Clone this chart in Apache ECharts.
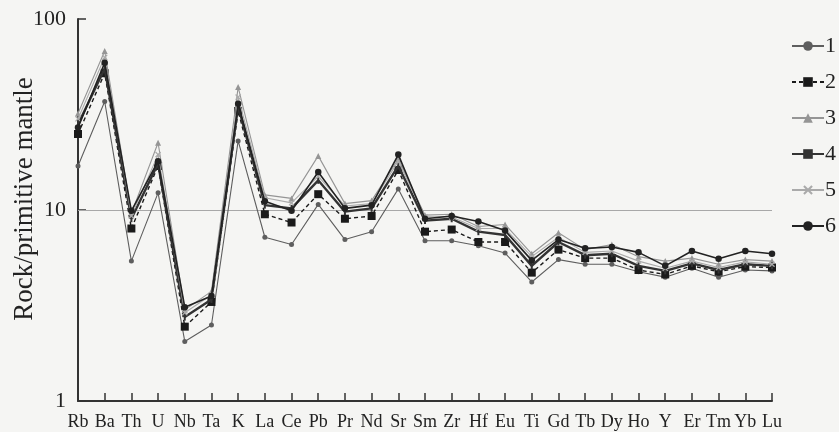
<!DOCTYPE html>
<html>
<head>
<meta charset="utf-8">
<script src="https://cdn.jsdelivr.net/npm/echarts@6/dist/echarts.min.js"></script>
<style>
  html, body { margin: 0; padding: 0; background: #f5f5f3; }
  #chart { width: 839px; height: 432px; }
</style>
</head>
<body>
<div id="chart"></div>
<script>
// Primitive-mantle normalised trace element patterns (spider diagram)
const elements = ['Rb','Ba','Th','U','Nb','Ta','K','La','Ce','Pb','Pr','Nd','Sr','Sm','Zr','Hf','Eu','Ti','Gd','Tb','Dy','Ho','Y','Er','Tm','Yb','Lu'];

const sample1 = [17, 37, 5.4, 12.3, 2.05, 2.5, 23, 7.2, 6.6, 10.7, 7.0, 7.7, 12.9, 6.9, 6.9, 6.5, 5.95, 4.2, 5.5, 5.2, 5.2, 4.75, 4.45, 4.95, 4.45, 4.85, 4.8];
const sample2 = [25, 52, 8.0, 17, 2.45, 3.3, 33, 9.5, 8.6, 12.1, 9.0, 9.3, 16.2, 7.7, 7.9, 6.8, 6.8, 4.7, 6.2, 5.6, 5.6, 4.85, 4.6, 5.1, 4.75, 5.05, 5.0];
const sample3 = [32, 68, 9.6, 22.5, 3.0, 3.75, 44, 12, 11.5, 19.2, 10.8, 11.2, 18.5, 9.4, 9.5, 8.2, 8.4, 5.9, 7.6, 6.2, 6.6, 5.7, 5.4, 5.6, 5.2, 5.5, 5.4];
const sample4 = [28, 55, 9.0, 17.5, 2.75, 3.4, 35, 10.6, 10.2, 14.3, 9.8, 10.2, 17, 8.8, 9.0, 7.7, 7.4, 5.1, 6.8, 5.8, 5.9, 5.1, 4.8, 5.25, 4.85, 5.2, 5.1];
const sample5 = [30, 63, 9.3, 19.5, 2.9, 3.6, 39, 11.6, 10.9, 15, 10.5, 10.8, 18, 9.2, 9.2, 8.0, 8.0, 5.7, 7.2, 6.0, 6.1, 5.4, 4.95, 5.4, 5.0, 5.35, 5.2];
const sample6 = [27, 59, 9.9, 18, 3.1, 3.55, 36, 11.1, 9.9, 15.8, 10.2, 10.6, 19.5, 9.0, 9.3, 8.7, 7.8, 5.45, 7.0, 6.3, 6.4, 6.0, 5.1, 6.1, 5.55, 6.1, 5.9];

const yTicks = [1, 10, 100];
const seriesNames = ['1', '2', '3', '4', '5', '6'];

const serif = 'Liberation Serif, Times New Roman, serif';
const crossPath = 'path://M0,1.5 L1.5,0 L10,8.5 L8.5,10 Z M8.5,0 L10,1.5 L1.5,10 L0,8.5 Z';

const styles = [
  { data: sample1, color: '#5e5e5e', width: 1.1, type: 'solid', symbol: 'circle', size: 5 },
  { data: sample2, color: '#1a1a1a', width: 1.4, type: [4, 3], symbol: 'rect', size: 8 },
  { data: sample3, color: '#959595', width: 1.1, type: 'solid', symbol: 'triangle', size: 6 },
  { data: sample4, color: '#333333', width: 2.4, type: 'solid', symbol: 'rect', size: [2, 7] },
  { data: sample5, color: '#aaaaaa', width: 1.1, type: 'solid', symbol: crossPath, size: 6 },
  { data: sample6, color: '#222222', width: 1.6, type: 'solid', symbol: 'circle', size: 6.5 }
];

const series = styles.map((s, i) => ({
  name: seriesNames[i],
  type: 'line',
  data: s.data,
  symbol: s.symbol,
  symbolSize: s.size,
  showAllSymbol: true,
  itemStyle: { color: s.color },
  lineStyle: { color: s.color, width: s.width, type: s.type },
  emphasis: { disabled: true },
  z: 3 + i,
  markLine: i === 0 ? {
    silent: true,
    symbol: 'none',
    label: { show: false },
    lineStyle: { color: '#a8a8a8', width: 1.2, type: 'solid' },
    data: [{ yAxis: 10 }],
    z: 1
  } : undefined
}));

const chart = echarts.init(document.getElementById('chart'), null, { renderer: 'canvas' });
chart.setOption({
  backgroundColor: '#f5f5f3',
  animation: false,
  textStyle: { fontFamily: serif },
  grid: { left: 78, right: 67, top: 19, bottom: 31, containLabel: false, outerBoundsMode: 'none' },
  legend: {
    orient: 'vertical',
    left: 786,
    top: 30,
    itemWidth: 32,
    itemHeight: 12,
    itemGap: 14,
    textStyle: { fontFamily: serif, fontSize: 22, color: '#222', padding: [0, 0, 0, -4] },
    data: seriesNames
  },
  xAxis: {
    type: 'category',
    data: elements,
    boundaryGap: false,
    axisLine: { lineStyle: { color: '#333', width: 2 } },
    axisTick: { inside: true, length: 8, lineStyle: { color: '#333', width: 1.5 } },
    axisLabel: { interval: 0, fontFamily: serif, fontSize: 18, color: '#222', margin: 12 }
  },
  yAxis: {
    type: 'log',
    logBase: 10,
    min: yTicks[0],
    max: yTicks[yTicks.length - 1],
    name: 'Rock/primitive mantle',
    nameLocation: 'middle',
    nameGap: 40,
    nameMoveOverlap: false,
    nameTextStyle: { fontFamily: serif, fontSize: 27, color: '#222', padding: [0, 0, 0, 22] },
    axisLine: { show: true, lineStyle: { color: '#333', width: 2 } },
    axisTick: { show: true, inside: true, length: 8, lineStyle: { color: '#333', width: 1.5 } },
    axisLabel: { fontFamily: serif, fontSize: 22, color: '#222', margin: 12 },
    splitLine: { show: false }
  },
  series: series
});
</script>
</body>
</html>
